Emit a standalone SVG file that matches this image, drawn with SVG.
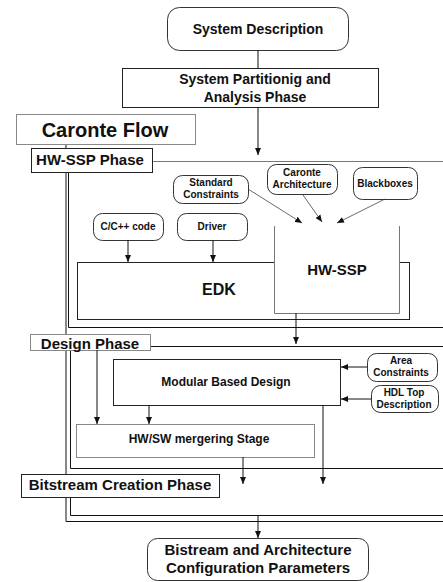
<svg xmlns="http://www.w3.org/2000/svg" width="443" height="582" viewBox="0 0 443 582">
<defs>
<marker id="ah" markerUnits="userSpaceOnUse" markerWidth="7" markerHeight="7" viewBox="0 0 7 7" refX="7" refY="3.5" orient="auto">
<path d="M0,0.5 L7,3.5 L0,6.5 Z" fill="#111"/>
</marker>
</defs>
<style>
text{font-family:"Liberation Sans",Arial,sans-serif;font-weight:bold;fill:#111;text-anchor:middle}
.box{fill:#fff;stroke:#222;stroke-width:1}
.lbox{fill:#fff;stroke:#888;stroke-width:1}
.rnd{fill:#fff;stroke:#333;stroke-width:1}
.ln{fill:none;stroke:#111;stroke-width:1}
.gl{fill:none;stroke:#777;stroke-width:1}
.ar{fill:none;stroke:#111;stroke-width:1;marker-end:url(#ah)}
.dg{fill:none;stroke:#444;stroke-width:0.8;marker-end:url(#ah)}
.s10{font-size:10px}
</style>
<rect width="443" height="582" fill="#fff"/>

<g id="frames">
<path class="gl" d="M152,161.5 H443"/>
<path class="ln" d="M68.5,172 V327.5 H443"/>
<path class="ln" d="M150,346.5 H443"/>
<path class="ln" d="M70.5,350 V468.5 H443"/>
<path class="ln" d="M70.5,497 V515.5 H443"/>
<path class="ln" d="M66,144 V148 M66,172 V334 M66,350 V474 M66,497 V521.5 H443"/>
</g>

<g id="system-description">
<rect class="rnd" x="167.5" y="7.5" width="181" height="43" rx="12"/>
<text x="258" y="34" font-size="14">System Description</text>
</g>
<g id="system-partitioning">
<rect class="box" x="122.5" y="68.5" width="256" height="39"/>
<text x="255" y="84" font-size="14">System Partitionig and</text>
<text x="255" y="102" font-size="14">Analysis Phase</text>
</g>
<g id="caronte-flow">
<rect class="lbox" x="16.5" y="114.5" width="179" height="30"/>
<text x="105" y="137" font-size="20">Caronte Flow</text>
</g>
<g id="hw-ssp-phase">
<rect class="box" x="31.5" y="148.5" width="121" height="24"/>
<text x="90" y="165" font-size="15">HW-SSP Phase</text>
</g>
<g id="standard-constraints">
<rect class="rnd" x="173.5" y="175.5" width="75" height="28" rx="9"/>
<text class="s10" x="211" y="186">Standard</text>
<text class="s10" x="211" y="198">Constraints</text>
</g>
<g id="caronte-architecture">
<rect class="rnd" x="267.5" y="164.5" width="70" height="30" rx="9"/>
<text class="s10" x="302" y="176">Caronte</text>
<text class="s10" x="302" y="188">Architecture</text>
</g>
<g id="blackboxes">
<rect class="rnd" x="353.5" y="167.5" width="64" height="32" rx="9"/>
<text class="s10" x="385" y="187">Blackboxes</text>
</g>
<g id="cpp-code">
<rect class="rnd" x="93.5" y="213.5" width="70" height="27" rx="9"/>
<text class="s10" x="128" y="230">C/C++ code</text>
</g>
<g id="driver">
<rect class="rnd" x="177.5" y="213.5" width="70" height="27" rx="9"/>
<text class="s10" x="212" y="230">Driver</text>
</g>
<g id="edk">
<rect class="box" x="77.5" y="262.5" width="332" height="57"/>
<text x="219" y="295" font-size="16">EDK</text>
</g>
<g id="hw-ssp">
<rect x="274" y="226" width="125" height="87" fill="#fff"/>
<path class="gl" d="M274.5,226 V313.5 H399.5 V226"/>
<text x="337" y="275" font-size="15">HW-SSP</text>
</g>
<g id="design-phase">
<rect class="lbox" x="30.5" y="334.5" width="120" height="16"/>
<text x="90" y="349" font-size="15">Design Phase</text>
</g>
<g id="modular-based-design">
<rect class="box" x="113.5" y="359.5" width="227" height="46"/>
<text x="226" y="386" font-size="12">Modular Based Design</text>
</g>
<g id="area-constraints">
<rect class="rnd" x="367.5" y="353.5" width="70" height="28" rx="9"/>
<text class="s10" x="401" y="364">Area</text>
<text class="s10" x="401" y="376">Constraints</text>
</g>
<g id="hdl-top-description">
<rect class="rnd" x="371.5" y="385.5" width="67" height="27" rx="9"/>
<text class="s10" x="404" y="396">HDL Top</text>
<text class="s10" x="404" y="408">Description</text>
</g>
<g id="hw-sw-mergering">
<rect class="lbox" x="76.5" y="424.5" width="238" height="33"/>
<text x="199" y="443" font-size="12">HW/SW mergering Stage</text>
</g>
<g id="bitstream-creation-phase">
<rect class="box" x="21.5" y="474.5" width="198" height="23"/>
<text x="120" y="490" font-size="15">Bitstream Creation Phase</text>
</g>
<g id="bitstream-output">
<rect class="rnd" x="147.5" y="538.5" width="221" height="42" rx="10"/>
<text x="258" y="555" font-size="15">Bistream and Architecture</text>
<text x="258" y="573" font-size="15">Configuration Parameters</text>
</g>

<g id="connectors">
<path class="ln" d="M258,50 V68"/>
<path class="ar" d="M258,107 V155"/>
<path class="dg" d="M248,189 L302,223"/>
<path class="dg" d="M303,195 L322,222"/>
<path class="dg" d="M385,199 L337,223"/>
<path class="ar" d="M128,240 V262"/>
<path class="ar" d="M213,240 V262"/>
<path class="ar" d="M296,313 V344"/>
<path class="ar" d="M367,367 H341"/>
<path class="ar" d="M371,399 H341"/>
<path class="ar" d="M97,350 V424"/>
<path class="ar" d="M149,405 V424"/>
<path class="ar" d="M323,405 V484"/>
<path class="ar" d="M243,457 V484"/>
<path class="ar" d="M258,515 V538"/>
</g>
</svg>
